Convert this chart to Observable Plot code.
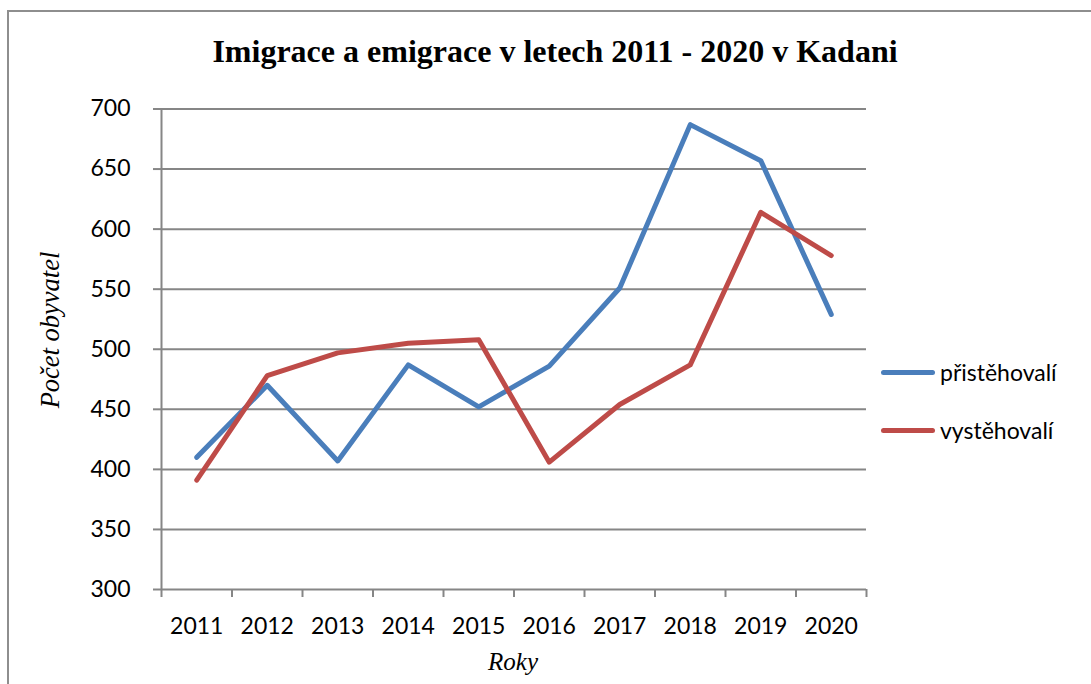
<!DOCTYPE html>
<html>
<head>
<meta charset="utf-8">
<script src="https://cdn.jsdelivr.net/npm/d3@7"></script>
<script src="https://cdn.jsdelivr.net/npm/@observablehq/plot@0.6"></script>
<style>
  html, body { margin: 0; padding: 0; background: #fff; }
  #wrap { position: relative; width: 1091px; height: 684px; overflow: hidden; background: #fff; }
  #frame { position: absolute; left: 7px; top: 10px; width: 1200px; height: 800px;
           border-left: 2px solid #8e8e8e; border-top: 2px solid #8e8e8e; }
  #chart { position: absolute; left: 0; top: 0; }
  #title { position: absolute; left: 0; top: 35px; width: 1110px; text-align: center;
           font-family: "Liberation Serif", "Times New Roman", serif; font-weight: bold;
           font-size: 32px; line-height: 32px; color: #000; white-space: nowrap; }
  #ylabel { position: absolute; left: 50px; top: 330px; transform: translate(-50%, -50%) rotate(-90deg);
            font-family: "Liberation Serif", "Times New Roman", serif; font-style: italic;
            font-size: 26.5px; white-space: nowrap; color: #000; }
  #xlabel { position: absolute; left: 513px; top: 662px; transform: translate(-50%, -50%);
            font-family: "Liberation Serif", "Times New Roman", serif; font-style: italic;
            font-size: 25px; white-space: nowrap; color: #000; }
  #legend { position: absolute; left: 881px; top: 352px; font-family: Lato, "Open Sans", sans-serif;
            font-size: 23px; color: #000; }
  .item { display: flex; align-items: center; height: 40px; margin-bottom: 18px; }
  .sw { width: 54px; height: 5px; border-radius: 3px; margin-right: 5px; }
</style>
</head>
<body>
<div id="wrap">
  <div id="frame"></div>
  <div id="chart"></div>
  <div id="title">Imigrace a emigrace v letech 2011 - 2020 v Kadani</div>
  <div id="ylabel">Počet obyvatel</div>
  <div id="xlabel">Roky</div>
  <div id="legend"></div>
</div>
<script>
const years = [2011, 2012, 2013, 2014, 2015, 2016, 2017, 2018, 2019, 2020];
const prist = [410, 470, 407, 487, 452, 486, 551, 687, 657, 529];
const vyst  = [391, 478, 497, 505, 508, 406, 454, 487, 614, 578];
const seriesNames = ["přistěhovalí", "vystěhovalí"];
const seriesColors = ["#4A7EBB", "#BE4B48"];
const yTicks = [300, 350, 400, 450, 500, 550, 600, 650, 700];

const rows = [];
years.forEach((yr, i) => {
  rows.push({year: yr, value: prist[i], series: seriesNames[0]});
  rows.push({year: yr, value: vyst[i], series: seriesNames[1]});
});
const bounds = years.map(y => y - 0.5).concat([years[years.length - 1] + 0.5]);
const gray = "#868686";

const chart = Plot.plot({
  width: 1091,
  height: 684,
  marginLeft: 161,
  marginRight: 225,
  marginTop: 108.5,
  marginBottom: 95,
  style: {fontFamily: "Lato, 'Open Sans', sans-serif", fontSize: "23px", color: "#000", background: "transparent"},
  x: {domain: [bounds[0], bounds[bounds.length - 1]]},
  y: {domain: [300, 700]},
  color: {domain: seriesNames, range: seriesColors},
  marks: [
    Plot.gridY(yTicks, {stroke: gray, strokeOpacity: 1, strokeWidth: 2}),
    Plot.ruleX([bounds[0]], {y1: 300, y2: 700, stroke: gray, strokeWidth: 2}),
    Plot.axisY({ticks: yTicks, tickSize: 8, tickPadding: 23, stroke: gray, strokeWidth: 2, label: null, fill: "#000"}),
    Plot.axisX({ticks: bounds, tickSize: 8, tickFormat: () => "", stroke: gray, strokeWidth: 2, label: null}),
    Plot.axisX({ticks: years, tickSize: 0, tickPadding: 28, tickFormat: d => String(d), label: null, fill: "#000"}),
    Plot.line(rows, {x: "year", y: "value", z: "series", stroke: "series", strokeWidth: 5, strokeLinejoin: "round", strokeLinecap: "round"})
  ]
});
document.getElementById("chart").appendChild(chart);

const legend = document.getElementById("legend");
seriesNames.forEach((n, i) => {
  const it = document.createElement("div");
  it.className = "item";
  const sw = document.createElement("div");
  sw.className = "sw";
  sw.style.background = seriesColors[i];
  const t = document.createElement("span");
  t.textContent = n;
  it.appendChild(sw); it.appendChild(t);
  legend.appendChild(it);
});
</script>
</body>
</html>
